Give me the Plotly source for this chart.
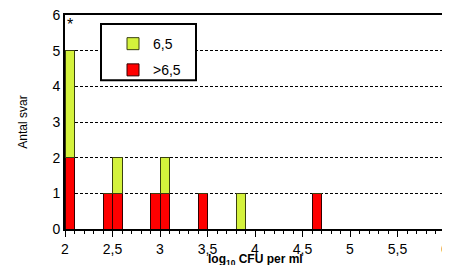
import plotly.graph_objects as go

# bin centres (log10 CFU per ml), bin width 0.1
bin_centers = [2.05, 2.45, 2.55, 2.95, 3.05, 3.45, 3.85, 4.65]
red_counts = [2, 1, 1, 1, 1, 1, 0, 1]     # ">6,5"
green_counts = [3, 0, 1, 0, 1, 0, 1, 0]   # "6,5"
x_range = [2, 6]
x_tick_step = 0.5   # labels 2, 2,5, 3 ... 6 (decimal comma)

font = "Liberation Sans, Arial, sans-serif"

fig = go.Figure()
fig.add_trace(go.Bar(x=bin_centers, y=red_counts, width=0.1, name=">6,5",
                     legendgroup="b", legendrank=2,
                     marker=dict(color="#FF0000", line=dict(color="#330000", width=1))))
fig.add_trace(go.Bar(x=bin_centers, y=green_counts, width=0.1, name="6,5",
                     legendgroup="a", legendrank=1,
                     marker=dict(color="#D4F23C", line=dict(color="#3A4010", width=1))))

fig.add_annotation(x=2.05, y=5.72, text="*", showarrow=False,
                   font=dict(size=16, color="black", family=font))

# x-axis title placed explicitly
fig.add_annotation(x=0.5, xref="paper", y=0, yref="paper", yanchor="middle",
                   yshift=-31, text="<b>log<sub>10</sub> CFU per ml</b>", showarrow=False,
                   font=dict(size=12, color="black", family=font))

# legend frame
fig.add_shape(type="rect", xref="paper", yref="paper",
              x0=(101 - 65) / 380, x1=(196 - 65) / 380,
              y0=(229 - 81) / 213, y1=(229 - 25) / 213,
              line=dict(color="black", width=2), fillcolor="white", layer="above")

fig.update_layout(
    width=442, height=257,
    margin=dict(l=57, r=5, t=7, b=36, autoexpand=False),
    separators=", ",
    barmode="stack",
    plot_bgcolor="white", paper_bgcolor="white",
    font=dict(family=font, color="black", size=14),
    showlegend=True,
    legend=dict(x=(113 - 65) / 380, y=(229 - 29) / 213, xanchor="left", yanchor="top",
                borderwidth=0, bgcolor="rgba(0,0,0,0)",
                traceorder="grouped", font=dict(size=14),
                itemwidth=30, tracegroupgap=5),
    xaxis=dict(range=x_range, tick0=2, dtick=x_tick_step,
               ticks="outside", ticklen=6, tickwidth=1, tickcolor="black",
               minor=dict(dtick=0.1, ticks="outside", ticklen=3, tickcolor="black"),
               showline=True, linecolor="black", linewidth=2, mirror=True,
               showgrid=False, zeroline=False, automargin=False,
               ticklabeloverflow="allow"),
    yaxis=dict(range=[0, 6], dtick=1, ticks="", showline=True, linecolor="black",
               linewidth=2, mirror=True, showgrid=True, gridcolor="black",
               griddash="3px,2px", gridwidth=1, zeroline=False, automargin=False,
               ticklabeloverflow="allow",
               title=dict(text="Antal svar", font=dict(size=12), standoff=22)),
)

fig.write_html("out.html")
